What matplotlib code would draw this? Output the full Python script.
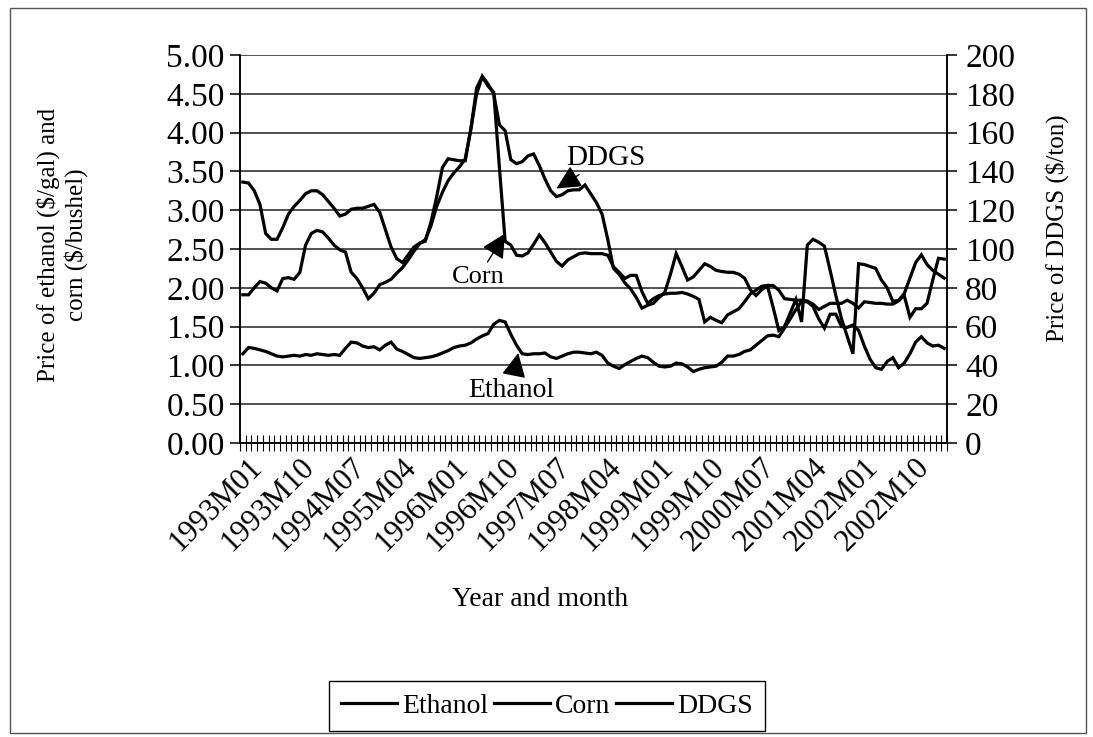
import numpy as np
import matplotlib.pyplot as plt
from matplotlib.patches import Rectangle
from matplotlib.transforms import ScaledTranslation
from matplotlib.lines import Line2D

plt.rcParams['font.family'] = ['Liberation Serif', 'DejaVu Serif']

# monthly series, 1993M01 .. 2003M04
months = [f'{1993 + k // 12}M{k % 12 + 1:02d}' for k in range(124)]

ethanol = [
    1.15, 1.23, 1.22, 1.20, 1.18, 1.15, 1.12, 1.11, 1.12, 1.13, 1.12, 1.14,
    1.13, 1.15, 1.14, 1.13, 1.14, 1.13, 1.22, 1.30, 1.29, 1.25, 1.23, 1.24,
    1.20, 1.26, 1.30, 1.21, 1.18, 1.14, 1.10, 1.09, 1.10, 1.11, 1.13, 1.16,
    1.19, 1.23, 1.25, 1.26, 1.29, 1.34, 1.38, 1.41, 1.53, 1.58, 1.56, 1.40,
    1.26, 1.15, 1.14, 1.15, 1.15, 1.16, 1.11, 1.09, 1.12, 1.15, 1.17, 1.17,
    1.16, 1.15, 1.17, 1.13, 1.03, 0.99, 0.96, 1.01, 1.05, 1.09, 1.12, 1.10,
    1.04, 0.99, 0.98, 0.99, 1.03, 1.02, 0.98, 0.92, 0.95, 0.97, 0.98, 0.99,
    1.04, 1.12, 1.12, 1.14, 1.18, 1.20, 1.26, 1.32, 1.38, 1.39, 1.37, 1.48,
    1.60, 1.72, 1.82, 1.82, 1.76, 1.60, 1.48, 1.66, 1.66, 1.50, 1.49, 1.52,
    1.45, 1.25, 1.08, 0.97, 0.95, 1.05, 1.10, 0.97, 1.03, 1.15, 1.30, 1.37,
    1.29, 1.25, 1.26, 1.22,
]

corn = [
    1.91, 1.91, 2.00, 2.08, 2.06, 2.00, 1.96, 2.12, 2.13, 2.11, 2.20, 2.55,
    2.70, 2.74, 2.72, 2.64, 2.55, 2.49, 2.46, 2.20, 2.12, 2.00, 1.86, 1.93,
    2.04, 2.07, 2.11, 2.19, 2.26, 2.36, 2.47, 2.57, 2.62, 2.80, 3.05, 3.23,
    3.38, 3.48, 3.56, 3.66, 4.05, 4.50, 4.72, 4.60, 4.52, 3.55, 2.60, 2.55,
    2.42, 2.41, 2.45, 2.56, 2.68, 2.58, 2.46, 2.34, 2.28, 2.36, 2.40, 2.44,
    2.45, 2.44, 2.44, 2.44, 2.42, 2.27, 2.20, 2.12, 2.16, 2.16, 1.95, 1.80,
    1.86, 1.90, 1.92, 1.93, 1.93, 1.94, 1.92, 1.89, 1.85, 1.56, 1.62, 1.58,
    1.55, 1.65, 1.69, 1.73, 1.82, 1.92, 1.97, 2.02, 2.03, 2.03, 1.97, 1.86,
    1.85, 1.84, 1.84, 1.83, 1.79, 1.72, 1.76, 1.80, 1.80, 1.80, 1.84, 1.80,
    1.74, 1.82, 1.81, 1.80, 1.80, 1.79, 1.79, 1.83, 1.90, 1.62, 1.73, 1.73,
    1.80, 2.10, 2.38, 2.37,
]

ddgs = [
    134.5, 134, 130, 123, 108, 105, 105, 111, 118, 122, 125, 128.5,
    130, 130, 128, 124.5, 121, 117, 118, 120.5, 121, 121, 122, 123,
    119, 110, 101, 95, 93, 97, 101, 103, 104, 114, 127, 142,
    146.5, 146, 145.5, 145.5, 162, 183, 189, 185, 180, 164, 161, 146,
    144, 145, 148, 149, 143, 136, 130, 127, 128, 130, 130.5, 130.5,
    133, 128.5, 124, 118, 105, 90, 87, 82.5, 79.5, 75, 69.5, 71,
    72, 75, 77.6, 87, 97.6, 91, 84, 85.6, 89, 92.4, 91, 89,
    88.4, 88, 88, 87, 85, 79, 76, 79, 81, 70, 58, 60,
    67, 74, 62.4, 102, 105, 103.5, 101.5, 89, 76, 64, 55, 46,
    92.4, 92, 91, 90, 84, 80, 73, 73.5, 77, 85, 93, 97,
    92, 89, 87, 85,
]

left_ticks = np.arange(0, 5.01, 0.5)
right_ticks = np.arange(0, 201, 20)

x = np.arange(len(months))

fig = plt.figure(figsize=(10.93, 7.37), dpi=100)
ax = fig.add_axes([240 / 1093, 1 - 443 / 737, 707 / 1093, 388 / 737])
ax2 = ax.twinx()

ax.plot(x, ethanol, color='black', lw=2.3, solid_joinstyle='miter')
ax.plot(x, corn, color='black', lw=2.3, solid_joinstyle='miter')
ax2.plot(x, ddgs, color='black', lw=2.3, solid_joinstyle='miter')

ax.set_xlim(-0.5, len(months) - 0.5)
ax.set_ylim(0, 5)
ax2.set_ylim(0, 200)

ax.set_yticks(left_ticks)
ax.set_yticklabels([f'{v:.2f}' for v in left_ticks])
ax2.set_yticks(right_ticks)
ax2.set_yticklabels([f'{v:d}' for v in right_ticks])
ax.yaxis.grid(True, color='#222222', lw=1.1)
ax.set_axisbelow(True)

for a in (ax, ax2):
    a.spines['top'].set_visible(False)
    for s in a.spines.values():
        s.set_linewidth(1.1)
ax.tick_params(axis='y', labelsize=24, length=7, width=1.1, pad=4)
ax2.tick_params(axis='y', labelsize=24, length=7, width=1.1, pad=6)

lab_idx = np.arange(0, len(months), 9)
lab_idx = lab_idx[lab_idx <= 117]
ax.set_xticks(lab_idx)
ax.set_xticklabels([months[k] for k in lab_idx], rotation=45, ha='right',
                   rotation_mode='anchor', fontsize=22)
ax.set_xticks(np.arange(-0.5, len(months), 1), minor=True)
ax.tick_params(axis='x', which='major', length=0, pad=7)
ax.tick_params(axis='x', which='minor', direction='inout', length=12, width=0.8)
for lbl in ax.get_xticklabels():
    lbl.set_transform(lbl.get_transform() + ScaledTranslation(0.05, 0, fig.dpi_scale_trans))

# call-outs for the three series
arrow = dict(arrowstyle='-|>,head_length=1.0,head_width=0.5', color='black',
             lw=1, shrinkA=1, shrinkB=0, mutation_scale=15)
ax.annotate('DDGS', xy=(55.0, 3.28), xytext=(63.7, 3.67), fontsize=21,
            ha='center', va='center', arrowprops=arrow)
ax.annotate('Corn', xy=(46.0, 2.70), xytext=(41.3, 2.14), fontsize=19,
            ha='center', va='center', arrowprops=arrow)
ax.annotate('Ethanol', xy=(48.3, 1.16), xytext=(47.0, 0.68), fontsize=20,
            ha='center', va='center', arrowprops=arrow)

fig.text(540 / 1093, 1 - 600 / 737, 'Year and month', fontsize=20,
         ha='center', va='center')
fig.text(62 / 1093, 1 - 245 / 737, 'Price of ethanol ($/gal) and\ncorn ($/bushel)',
         fontsize=18, rotation=90, ha='center', va='center',
         multialignment='center', linespacing=1.25)
fig.text(1057 / 1093, 1 - 228 / 737, 'Price of DDGS ($/ton)', fontsize=18,
         rotation=90, ha='center', va='center')

handles = [Line2D([], [], color='black', lw=2.3) for _ in range(3)]
leg = fig.legend(handles, ['Ethanol', 'Corn', 'DDGS'], loc='center',
                 bbox_to_anchor=(547 / 1093, 1 - 706 / 737), ncol=3,
                 fontsize=20, frameon=True, fancybox=False, framealpha=1,
                 edgecolor='black', handlelength=2.0, handletextpad=0.2,
                 columnspacing=0.2, borderpad=0.45, borderaxespad=0)
leg.get_frame().set_linewidth(1.0)

fig.patches.append(Rectangle((10 / 1093, 4 / 737), 1076 / 1093, 725 / 737,
                             transform=fig.transFigure, fill=False,
                             edgecolor='#555555', lw=1.0))

fig.savefig('out.png', dpi=100)
